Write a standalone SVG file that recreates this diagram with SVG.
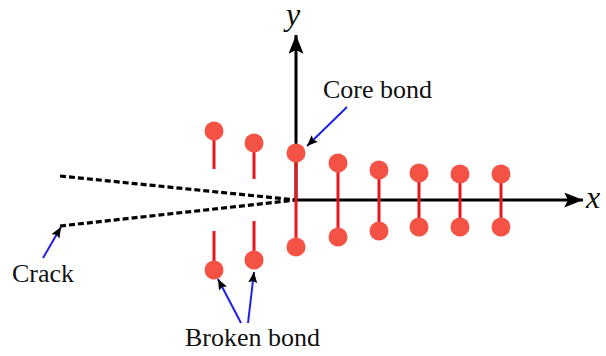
<svg xmlns="http://www.w3.org/2000/svg" width="606" height="356" viewBox="0 0 606 356">
<defs>
<style>
.axis{stroke:#000;stroke-width:3;fill:none}
.bond{stroke:#e8161c;stroke-width:3;fill:none}
.atom{fill:#f35244}
.crack{stroke:#000;stroke-width:3.2;stroke-dasharray:6,3;fill:none}
.lead{stroke:#1f1fe8;stroke-width:2;fill:none}
.lbl{font-family:"Liberation Serif","Times New Roman",serif;font-size:26px;fill:#111}
.ax{font-family:"Liberation Serif","Times New Roman",serif;font-style:italic;font-size:32px;fill:#111}
</style>
<marker id="ah" viewBox="0 0 12 10" refX="12" refY="5" markerWidth="11" markerHeight="9" markerUnits="userSpaceOnUse" orient="auto">
<path d="M0,0 L12,5 L0,10 L2,5 z" fill="#000"/>
</marker>
<marker id="axh" viewBox="0 0 20 16" refX="20" refY="8" markerWidth="20" markerHeight="15" markerUnits="userSpaceOnUse" orient="auto">
<path d="M0,0 L20,8 L0,16 L4,8 z" fill="#000"/>
</marker>
</defs>
<rect width="606" height="356" fill="#fff"/>
<g id="axes">
<line class="axis" x1="296" y1="200" x2="296" y2="35" marker-end="url(#axh)"/>
<line class="axis" x1="296" y1="200" x2="583" y2="200" marker-end="url(#axh)"/>
<text class="ax" x="286" y="25">y</text>
<text class="ax" x="586" y="208">x</text>
</g>
<g id="crack">
<line class="crack" x1="60" y1="176" x2="296" y2="200"/>
<line class="crack" x1="60" y1="226" x2="296" y2="200"/>
</g>
<g id="core-bond">
<line class="bond" x1="296" y1="153" x2="296" y2="247"/>
<circle class="atom" cx="296" cy="153" r="9.5"/>
<circle class="atom" cx="296" cy="247" r="9.5"/>
</g>
<g id="bond-1">
<line class="bond" x1="338" y1="163" x2="338" y2="237"/>
<circle class="atom" cx="338" cy="163" r="9.5"/>
<circle class="atom" cx="338" cy="237" r="9.5"/>
</g>
<g id="bond-2">
<line class="bond" x1="379" y1="170" x2="379" y2="231"/>
<circle class="atom" cx="379" cy="170" r="9.5"/>
<circle class="atom" cx="379" cy="231" r="9.5"/>
</g>
<g id="bond-3">
<line class="bond" x1="419" y1="173" x2="419" y2="227"/>
<circle class="atom" cx="419" cy="173" r="9.5"/>
<circle class="atom" cx="419" cy="227" r="9.5"/>
</g>
<g id="bond-4">
<line class="bond" x1="460" y1="174" x2="460" y2="227"/>
<circle class="atom" cx="460" cy="174" r="9.5"/>
<circle class="atom" cx="460" cy="227" r="9.5"/>
</g>
<g id="bond-5">
<line class="bond" x1="501" y1="174" x2="501" y2="227"/>
<circle class="atom" cx="501" cy="174" r="9.5"/>
<circle class="atom" cx="501" cy="227" r="9.5"/>
</g>
<g id="broken-bond-1">
<line class="bond" x1="214" y1="131" x2="214" y2="169"/>
<line class="bond" x1="214" y1="231" x2="214" y2="270"/>
<circle class="atom" cx="214" cy="131" r="9.5"/>
<circle class="atom" cx="214" cy="270" r="9.5"/>
</g>
<g id="broken-bond-2">
<line class="bond" x1="254" y1="143" x2="254" y2="179"/>
<line class="bond" x1="254" y1="221" x2="254" y2="260"/>
<circle class="atom" cx="254" cy="143" r="9.5"/>
<circle class="atom" cx="254" cy="260" r="9.5"/>
</g>
<g id="connectors">
<line class="lead" x1="347" y1="107" x2="307" y2="146" marker-end="url(#ah)"/>
<line class="lead" x1="43" y1="258" x2="61" y2="227" marker-end="url(#ah)"/>
<line class="lead" x1="241" y1="323" x2="218" y2="279" marker-end="url(#ah)"/>
<line class="lead" x1="248" y1="323" x2="254" y2="272" marker-end="url(#ah)"/>
</g>
<g id="labels">
<text class="lbl" x="323" y="98">Core bond</text>
<text class="lbl" x="12" y="282">Crack</text>
<text class="lbl" x="185" y="346">Broken bond</text>
</g>
</svg>
